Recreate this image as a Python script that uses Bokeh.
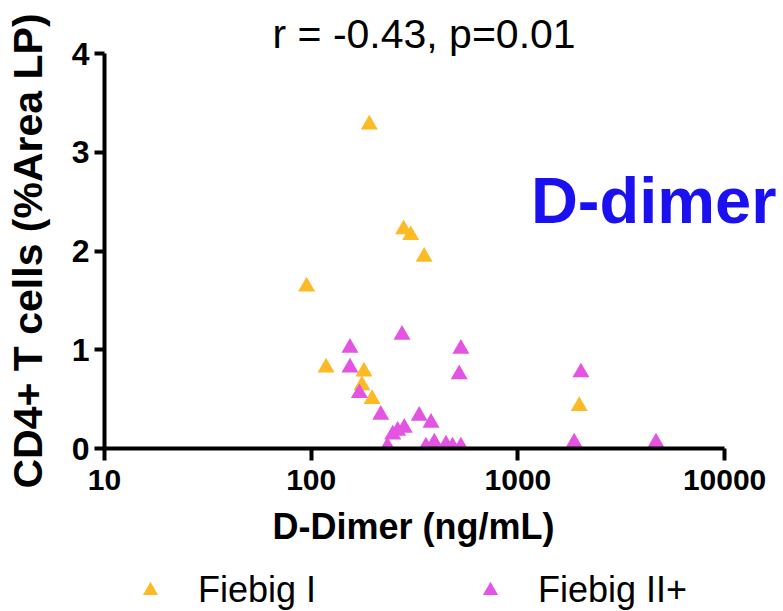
from bokeh.plotting import figure
from bokeh.layouts import column
from bokeh.models import (Range1d, FixedTicker, NumeralTickFormatter, Label,
                          Legend, LegendItem, ColumnDataSource, Title)
from bokeh.embed import file_html
from bokeh.resources import INLINE

# ---- data ----
fiebig1_ddimer = [95, 191, 280, 303, 352, 118, 180, 176, 197, 1980]
fiebig1_cd4 = [1.64, 3.28, 2.22, 2.16, 1.94, 0.82, 0.78, 0.64, 0.50, 0.43]

fiebig2_ddimer = [275, 154, 530, 154, 520, 2018, 171, 217, 333, 380, 282, 262,
                  248, 234, 359, 394, 449, 483, 530, 1872, 4656]
fiebig2_cd4 = [1.15, 1.02, 1.01, 0.82, 0.75, 0.77, 0.56, 0.34, 0.33, 0.26, 0.21,
               0.18, 0.14, 0.02, 0.02, 0.06, 0.04, 0.02, 0.02, 0.06, 0.06]

x_ticks = [10, 100, 1000, 10000]
y_ticks = [0, 1, 2, 3, 4]
series_labels = ["Fiebig I", "Fiebig II+"]
title_text = "r = -0.43, p=0.01"
panel_text = "D-dimer"
x_label = "D-Dimer (ng/mL)"
y_label = "CD4+ T cells (%Area LP)"

YELLOW = "#FCBA24"
MAGENTA = "#E354E2"
BLUE = "#1A10F0"
FONT = "Liberation Sans"

p = figure(x_axis_type="log", x_range=Range1d(10, 19275), y_range=Range1d(0, 4),
           width=783, height=568,
           min_border_left=104, min_border_right=0,
           min_border_top=53, min_border_bottom=120,
           output_backend="svg", toolbar_location=None)
p.xgrid.visible = False
p.ygrid.visible = False
p.outline_line_color = None
p.background_fill_color = "white"
p.border_fill_color = "white"

# title
p.title.text = title_text
p.title.align = "left"
p.title.offset = 168
p.title.text_font = FONT
p.title.text_font_style = "normal"
p.title.text_font_size = "41px"
p.title.text_color = "black"
p.title.standoff = -7

src1 = ColumnDataSource(dict(x=fiebig1_ddimer, y=fiebig1_cd4))
src2 = ColumnDataSource(dict(x=fiebig2_ddimer, y=fiebig2_cd4))
r1 = p.scatter("x", "y", source=src1, marker="triangle", size=17,
               fill_color=YELLOW, line_color=None)
r2 = p.scatter("x", "y", source=src2, marker="triangle", size=17,
               fill_color=MAGENTA, line_color=None)

# x axis
xa = p.xaxis[0]
xa.bounds = (10, 10000)
xa.ticker = FixedTicker(ticks=x_ticks, minor_ticks=[])
xa.formatter = NumeralTickFormatter(format="0")
xa.axis_line_width = 4
xa.major_tick_line_width = 4
xa.major_tick_out = 12
xa.major_tick_in = 0
xa.minor_tick_out = 0
xa.minor_tick_in = 0
xa.major_label_standoff = 9
xa.major_label_text_font = FONT
xa.major_label_text_font_style = "bold"
xa.major_label_text_font_size = "30px"
xa.major_label_text_color = "black"

# x axis label as a below-title so it can be offset like the reference
xlab = Title(text=x_label, align="left", offset=168, text_font=FONT,
             text_font_style="bold", text_font_size="36px",
             text_color="black", standoff=22)
p.add_layout(xlab, "below")

# y axis
ya = p.yaxis[0]
ya.ticker = FixedTicker(ticks=y_ticks, minor_ticks=[])
ya.axis_line_width = 4
ya.major_tick_line_width = 4
ya.major_tick_out = 10
ya.major_tick_in = 0
ya.minor_tick_out = 0
ya.minor_tick_in = 0
ya.major_label_standoff = 5
ya.major_label_text_font = FONT
ya.major_label_text_font_style = "bold"
ya.major_label_text_font_size = "32px"
ya.major_label_text_color = "black"
ya.axis_label = y_label
ya.axis_label_text_font = FONT
ya.axis_label_text_font_style = "bold"
ya.axis_label_text_font_size = "41px"
ya.axis_label_text_color = "black"
ya.axis_label_standoff = 18

# panel annotation
p.add_layout(Label(x=1156, y=2.515, text=panel_text, text_align="left",
                   text_baseline="alphabetic", text_font=FONT,
                   text_font_style="bold", text_font_size="65px",
                   text_color=BLUE))

# legend strip (separate small figure so the legend is not clipped);
# its key glyphs come from off-screen proxy renderers
leg = figure(width=783, height=43, x_range=Range1d(0, 1), y_range=Range1d(0, 1),
             x_axis_location=None, y_axis_location=None,
             min_border_left=0, min_border_right=0, min_border_top=0,
             min_border_bottom=0, output_backend="svg", toolbar_location=None)
leg.xgrid.visible = False
leg.ygrid.visible = False
leg.outline_line_color = None
leg.border_fill_color = "white"
proxy = ColumnDataSource(dict(x=[-5], y=[-5]))
lr1 = leg.scatter("x", "y", source=proxy, marker="triangle", size=17,
                  fill_color=YELLOW, line_color=None)
lr2 = leg.scatter("x", "y", source=proxy, marker="triangle", size=17,
                  fill_color=MAGENTA, line_color=None)
legend = Legend(items=[LegendItem(label=series_labels[0], renderers=[lr1]),
                       LegendItem(label=series_labels[1], renderers=[lr2])],
                orientation="horizontal", location=(27, 0),
                glyph_width=38, glyph_height=40, label_standoff=29,
                spacing=155, padding=0, margin=0,
                border_line_color=None, background_fill_alpha=0,
                label_text_font=FONT, label_text_font_size="36px",
                label_text_color="black")
leg.add_layout(legend)

open("out.html", "w").write(file_html(column(p, leg, spacing=0), INLINE))
